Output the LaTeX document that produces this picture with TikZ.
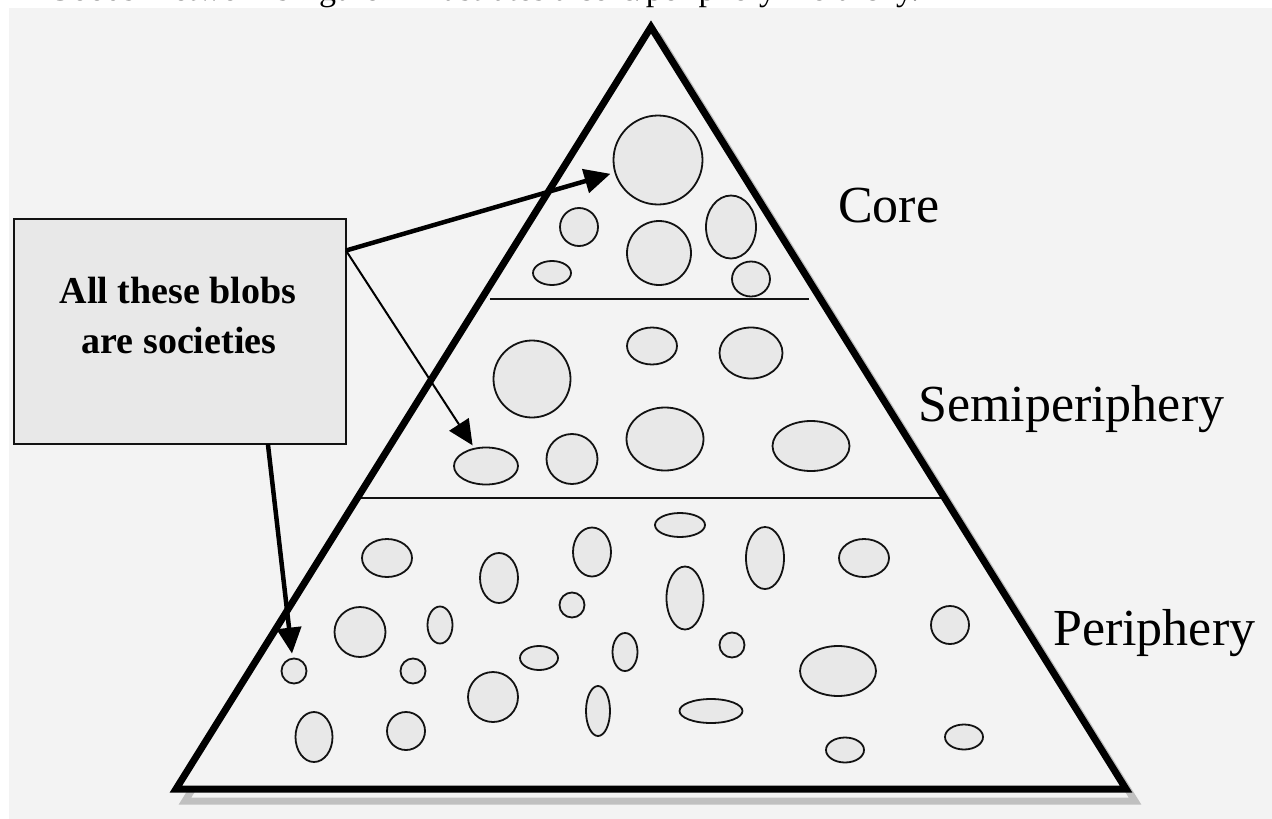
\documentclass[tikz,border=0pt]{standalone}
\usepackage{fontspec}
\setmainfont{Liberation Serif}
\usetikzlibrary{shapes.geometric,arrows.meta}
\definecolor{bgc}{RGB}{243,243,243}
\definecolor{blobfill}{RGB}{232,232,232}
\definecolor{boxfill}{RGB}{232,232,232}
\definecolor{shade}{RGB}{192,192,192}
\definecolor{ink}{RGB}{18,18,18}
\newcommand\sblob[4]{\node[blob, minimum width=#3pt, minimum height=#4pt] (#1) at (#2) {};}
\begin{document}
\begin{tikzpicture}[x=1pt,y=-1pt,
  blob/.style={ellipse, draw=ink, line width=1.8pt, fill=blobfill, inner sep=0pt, outer sep=0pt},
  lab/.style={anchor=base west, inner sep=0pt, font=\fontsize{52}{60}\selectfont},
  boxtext/.style={anchor=base, inner sep=0pt, font=\fontsize{38}{50}\selectfont\bfseries},
  bigarrow/.style={draw=black, line width=4.5pt, -{Triangle[length=26pt,width=24pt]}, shorten >=5pt},
  thinarrow/.style={draw=black, line width=2pt, -{Triangle[length=25pt,width=23pt]}, shorten >=4pt},
  divider/.style={draw=ink, line width=2pt},
  pyramid/.style={draw=black, line width=7pt, line join=miter},
  pshadow/.style={draw=shade, line width=7pt, line join=miter}
]
\useasboundingbox (0,0) rectangle (1272,819);
\clip (0,0) rectangle (1272,819);
\fill[white] (0,0) rectangle (1272,819);
\fill[bgc] (9,8) rectangle (1272,819);

% cut-off caption line at the very top
\node[anchor=base west, inner sep=0pt, font=\fontsize{34}{40}\selectfont] (caption) at (47,1)
  {Goods' network's figure 1 illustrates a core/periphery hierarchy.};

% pyramid with drop shadow
\coordinate (apex) at (651,27);
\coordinate (bl) at (176,789);
\coordinate (br) at (1126,789);
\draw[pshadow] (660,39) -- (185,801) -- (1135,801) -- cycle;
\fill[bgc] (apex) -- (bl) -- (br) -- cycle;

% dividers
\draw[divider] (490,298.5) -- (809,298.5);
\draw[divider] (358,498) -- (945,498);

% core
\sblob{c1}{658,160}{89}{89}
\sblob{c2}{579,227}{38}{38}
\sblob{c3}{659,253}{64}{64}
\sblob{c4}{731,227}{50}{63}
\sblob{c5}{552,273}{38}{24}
\sblob{c6}{751,279}{38}{35}
% semiperiphery
\sblob{s1}{532,379}{77}{77}
\sblob{s2}{652,346}{50}{37}
\sblob{s3}{751,353}{63}{51}
\sblob{s4}{486,466}{64}{37}
\sblob{s5}{572,459}{51}{50}
\sblob{s6}{665,439}{77}{63}
\sblob{s7}{811,446}{77}{50}
% periphery
\sblob{p1}{387,558}{50}{38}
\sblob{p2}{499,578}{38}{50}
\sblob{p3}{592,552}{38}{49}
\sblob{p4}{360,632}{51}{50}
\sblob{p5}{440,625}{25}{37}
\sblob{p6}{572,605}{25}{25}
\sblob{p7}{294,671}{25}{25}
\sblob{p8}{413,671}{25}{25}
\sblob{p9}{539,658}{38}{24}
\sblob{p10}{625,652}{25}{38}
\sblob{p11}{493,697}{50}{50}
\sblob{p12}{314,737}{37}{50}
\sblob{p13}{406,731}{38}{38}
\sblob{p14}{598,711}{24}{50}
\sblob{p15}{685,598}{37}{63}
\sblob{p16}{680,525}{50}{24}
\sblob{p17}{765,558}{38}{62}
\sblob{p18}{732,645}{25}{25}
\sblob{p19}{711,711}{63}{24}
\sblob{p20}{864,558}{50}{38}
\sblob{p21}{950,625}{38}{38}
\sblob{p22}{838,671}{76}{50}
\sblob{p23}{845,750}{38}{25}
\sblob{p24}{964,737}{38}{25}

% pyramid outline on top
\draw[pyramid] (apex) -- (bl) -- (br) -- cycle;

% labels
\node[lab] (core) at (838,222) {Core};
\node[lab] (semi) at (918,421) {Semiperiphery};
\node[lab] (peri) at (1053,645) {Periphery};

% callout box
\node[draw=ink, line width=2pt, fill=boxfill, minimum width=332pt, minimum height=225pt,
      inner sep=0pt, outer sep=0pt] (box) at (180,331.5) {};
\node[boxtext] (t1) at (178,303) {All these blobs};
\node[boxtext] (t2) at (179,353) {are societies};

% arrows
\draw[bigarrow] (box.26.7) -- (c1);
\draw[thinarrow] (box.26.7) -- (s4);
\draw[bigarrow] (box.-52.3) -- (p7);
\end{tikzpicture}
\end{document}
